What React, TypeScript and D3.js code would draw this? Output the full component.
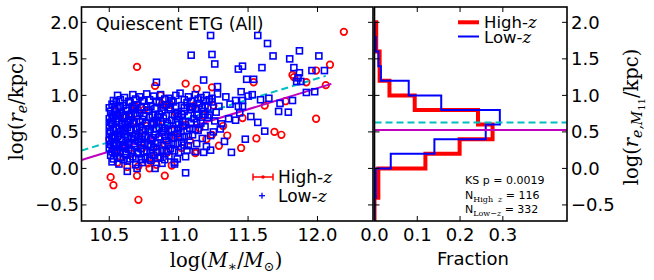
import React from "react";
import * as d3 from "d3";

// ---------- data ----------
const massTicks = [10.5, 11.0, 11.5, 12.0];
const sizeTicks = [-0.5, 0.0, 0.5, 1.0, 1.5, 2.0];
const fractionTicks = [0.0, 0.1, 0.2, 0.3];
const massDomain = [10.3, 12.4];
const sizeDomain = [-0.72, 2.21];
const fractionDomain = [0, 0.45];

// Low-z sample (blue squares): [log M*, log re]
const lowZ: [number, number][] = [
  [11.23, 1.82], [11.57, 1.82], [11.64, 1.71], [11.68, 1.54], [11.87, 1.61], [11.80, 1.50], [12.01, 1.54],
  [11.24, 1.56], [11.09, 1.55], [11.26, 1.43], [11.43, 1.36], [11.46, 1.40], [11.60, 1.38], [11.83, 1.38],
  [11.87, 1.31], [11.96, 1.34], [12.05, 1.34], [11.86, 1.24], [11.85, 1.19], [11.88, 1.19], [11.49, 1.22],
  [11.54, 1.22], [11.18, 1.21], [11.28, 1.12], [10.84, 1.18], [11.45, 1.05], [11.92, 1.04], [11.98, 1.05],
  [11.34, 0.98], [11.41, 0.93], [11.46, 0.93], [11.50, 0.99], [11.53, 1.01], [11.59, 0.94], [11.65, 0.96],
  [11.82, 0.93], [11.73, 0.89], [11.72, 0.78], [11.79, 0.77], [11.43, 0.85], [11.46, 0.85], [11.44, 0.76],
  [11.52, 0.71], [11.57, 0.63], [11.36, 0.68], [11.41, 0.66], [11.62, 0.51], [11.48, 0.40], [11.38, 0.22],
  [11.33, 0.37], [11.23, 0.25], [11.18, 0.22], [10.97, 0.085],
  [10.56, 1.00], [10.61, 0.97], [10.67, 1.01], [10.72, 0.98], [10.77, 1.02], [10.82, 0.99], [10.87, 1.01],
  [10.93, 0.96], [10.98, 1.00], [11.01, 1.03], [11.07, 0.98], [11.12, 1.01], [11.16, 0.97], [11.20, 1.00],
  [11.24, 0.96], [11.28, 1.02],
  [10.52, 0.88], [10.55, 0.91], [10.60, 0.86], [10.65, 0.90], [10.70, 0.87], [10.75, 0.92], [10.80, 0.85],
  [10.86, 0.90], [10.91, 0.87], [10.96, 0.91], [11.02, 0.86], [11.06, 0.90], [11.10, 0.84], [11.15, 0.89],
  [11.19, 0.86], [11.24, 0.91], [11.29, 0.85], [11.37, 0.88],
  [10.51, 0.78], [10.54, 0.81], [10.58, 0.75], [10.63, 0.79], [10.68, 0.82], [10.72, 0.76], [10.78, 0.80],
  [10.83, 0.74], [10.88, 0.79], [10.94, 0.81], [10.99, 0.75], [11.04, 0.78], [11.09, 0.81], [11.13, 0.74],
  [11.18, 0.78], [11.22, 0.73], [11.27, 0.77],
  [10.50, 0.68], [10.53, 0.71], [10.57, 0.65], [10.61, 0.70], [10.65, 0.66], [10.70, 0.72], [10.74, 0.67],
  [10.79, 0.70], [10.84, 0.64], [10.89, 0.69], [10.95, 0.66], [11.00, 0.71], [11.05, 0.64], [11.11, 0.68],
  [11.16, 0.62], [11.21, 0.70], [11.26, 0.65], [11.31, 0.61],
  [10.50, 0.58], [10.52, 0.61], [10.55, 0.55], [10.59, 0.60], [10.63, 0.56], [10.67, 0.61], [10.72, 0.57],
  [10.76, 0.54], [10.81, 0.60], [10.86, 0.56], [10.92, 0.59], [10.97, 0.54], [11.03, 0.58], [11.08, 0.55],
  [11.14, 0.52], [11.19, 0.57], [11.25, 0.50], [11.30, 0.54],
  [10.50, 0.48], [10.51, 0.51], [10.54, 0.45], [10.58, 0.50], [10.61, 0.46], [10.66, 0.52], [10.69, 0.47],
  [10.74, 0.44], [10.78, 0.50], [10.83, 0.46], [10.88, 0.49], [10.93, 0.44], [10.99, 0.48], [11.04, 0.43],
  [11.10, 0.46], [11.17, 0.41], [11.23, 0.45],
  [10.50, 0.38], [10.52, 0.41], [10.55, 0.35], [10.59, 0.40], [10.62, 0.36], [10.66, 0.41], [10.71, 0.37],
  [10.75, 0.34], [10.80, 0.39], [10.85, 0.35], [10.91, 0.38], [10.96, 0.33], [11.02, 0.36], [11.07, 0.31],
  [11.13, 0.34], [11.20, 0.30],
  [10.50, 0.28], [10.53, 0.31], [10.56, 0.25], [10.60, 0.30], [10.64, 0.26], [10.68, 0.31], [10.73, 0.27],
  [10.77, 0.24], [10.82, 0.29], [10.88, 0.25], [10.94, 0.27], [11.00, 0.22], [11.06, 0.25], [11.12, 0.23],
  [10.51, 0.18], [10.54, 0.21], [10.58, 0.15], [10.62, 0.19], [10.67, 0.16], [10.71, 0.20], [10.76, 0.14],
  [10.82, 0.18], [10.87, 0.15], [10.93, 0.17], [10.99, 0.13], [11.05, 0.16],
  [10.52, 0.09], [10.57, 0.06], [10.63, 0.10], [10.69, 0.05], [10.74, 0.08], [10.80, 0.11], [10.88, 0.07],
  [10.97, 0.06], [10.63, -0.04], [10.70, 0.00], [10.83, 0.00], [11.05, -0.06],
  [10.52, 0.63], [10.56, 0.68], [10.60, 0.52], [10.64, 0.63], [10.68, 0.44], [10.53, 0.44], [10.57, 0.33],
  [10.61, 0.28], [10.55, 0.72], [10.58, 0.85], [10.62, 0.60], [10.66, 0.75], [10.70, 0.55], [10.73, 0.40],
  [10.77, 0.62], [10.80, 0.30], [10.85, 0.70], [10.90, 0.55], [10.95, 0.42], [11.00, 0.60],
  [10.53, 0.93], [10.58, 0.94], [10.64, 0.92], [10.69, 0.95], [10.74, 0.93], [10.79, 0.94], [10.84, 0.92],
  [10.90, 0.95], [10.95, 0.93], [11.04, 0.94], [11.09, 0.92], [11.14, 0.95], [11.18, 0.93], [11.22, 0.94],
  [10.50, 0.83], [10.57, 0.84], [10.62, 0.82], [10.67, 0.85], [10.73, 0.83], [10.77, 0.84], [10.83, 0.82],
  [10.89, 0.84], [10.93, 0.83], [10.98, 0.85], [11.04, 0.83], [11.08, 0.84], [11.12, 0.82], [11.17, 0.83],
  [11.21, 0.84],
  [10.52, 0.73], [10.56, 0.74], [10.60, 0.72], [10.64, 0.73], [10.69, 0.75], [10.75, 0.72], [10.81, 0.73],
  [10.86, 0.74], [10.91, 0.72], [10.97, 0.73], [11.02, 0.74], [11.07, 0.72], [11.14, 0.73], [11.19, 0.74],
  [10.51, 0.63], [10.55, 0.64], [10.59, 0.62], [10.68, 0.63], [10.72, 0.64], [10.76, 0.62], [10.82, 0.63],
  [10.87, 0.64], [10.92, 0.62], [10.98, 0.63], [11.03, 0.64], [11.09, 0.62], [11.13, 0.63],
  [10.53, 0.53], [10.57, 0.54], [10.61, 0.52], [10.65, 0.53], [10.69, 0.54], [10.74, 0.52], [10.79, 0.53],
  [10.84, 0.54], [10.89, 0.52], [10.95, 0.53], [11.00, 0.54], [11.06, 0.52], [11.12, 0.53],
  [10.52, 0.43], [10.56, 0.44], [10.63, 0.42], [10.71, 0.43], [10.76, 0.44], [10.81, 0.42], [10.86, 0.43],
  [10.90, 0.44], [10.96, 0.42], [11.01, 0.43], [11.07, 0.44],
  [10.51, 0.33], [10.54, 0.34], [10.61, 0.32], [10.64, 0.33], [10.68, 0.34], [10.73, 0.32], [10.78, 0.33],
  [10.83, 0.34], [10.88, 0.32], [10.93, 0.33], [10.99, 0.34], [11.04, 0.32],
  [10.52, 0.23], [10.55, 0.24], [10.58, 0.22], [10.62, 0.23], [10.66, 0.24], [10.70, 0.22], [10.75, 0.23],
  [10.80, 0.24], [10.85, 0.22], [10.91, 0.23], [10.97, 0.24],
  [10.53, 0.13], [10.56, 0.14], [10.60, 0.12], [10.65, 0.13], [10.69, 0.14], [10.73, 0.12], [10.79, 0.13],
  [10.85, 0.14], [10.90, 0.12],
];

// High-z sample (red circles): [log M*, log re]
const highZ: [number, number][] = [
  [12.19, 1.87], [10.70, 1.39], [10.83, 1.13], [11.05, 1.16], [11.13, 1.09], [11.24, 1.11], [11.54, 1.18],
  [11.82, 1.28], [11.83, 1.25], [11.99, 1.34], [12.09, 1.42], [12.06, 1.14], [11.92, 1.18], [11.99, 0.68],
  [11.62, 0.86], [11.77, 0.92], [11.11, 0.86], [11.25, 0.86], [10.88, 0.88], [10.69, 0.85], [11.46, 0.69],
  [11.69, 0.50], [11.74, 0.46], [11.56, 0.41], [11.45, 0.28], [11.29, 0.31], [11.13, 0.23], [11.24, 0.46],
  [10.86, 0.16], [10.82, 0.14], [10.63, 0.02], [10.79, 0.00], [10.78, 0.07], [10.84, 0.05], [10.51, -0.12],
  [10.53, -0.23], [10.70, -0.10], [10.90, -0.10], [10.71, -0.43], [10.87, 1.00], [10.68, 0.87], [10.89, 0.87],
  [10.94, 0.87], [10.58, 0.16], [10.71, 0.03], [10.84, 0.23], [11.12, 0.21],
  [10.55, 0.78], [10.62, 0.72], [10.75, 0.80], [10.98, 0.76], [11.18, 0.72], [10.52, 0.60], [10.60, 0.55],
  [10.68, 0.65], [10.77, 0.58], [10.85, 0.62], [10.95, 0.52], [11.05, 0.60], [11.15, 0.55], [11.32, 0.58],
  [10.50, 0.40], [10.57, 0.45], [10.64, 0.35], [10.72, 0.48], [10.80, 0.40], [10.90, 0.33], [10.98, 0.44],
  [11.08, 0.38], [11.20, 0.40], [11.35, 0.45], [10.53, 0.25], [10.60, 0.30], [10.66, 0.20], [10.74, 0.28],
  [10.92, 0.22], [11.02, 0.28], [10.56, 0.08], [10.95, 0.04],
];

// size-mass fits
const dashedFitMass = [10.3, 12.06];
const dashedFitSize = [0.244, 1.267];
const solidFitMass = [10.3, 12.1];
const solidFitSize = [0.116, 1.157];
// sizes at M = 10^11
const dashedRefSize = 0.627;
const solidRefSize = 0.527;

// histograms of log r_e,M11
const histEdges = [-0.8, -0.6, -0.4, -0.2, 0.0, 0.2, 0.4, 0.6, 0.8, 1.0, 1.2, 1.4, 1.6, 1.8, 2.0];
const highZFraction = [0, 0, 0.009, 0.009, 0.119, 0.199, 0.276, 0.242, 0.094, 0.035, 0.012, 0.012, 0.004, 0.004];
const lowZFraction = [0, 0, 0.003, 0.003, 0.038, 0.14, 0.26, 0.293, 0.156, 0.08, 0.015, 0.009, 0.003, 0];

// ---------- layout ----------
const W = 654, H = 280;
const top = 7, bottom = 221;
const L0 = 81.5, L1 = 373;
const R0 = 374.5, R1 = 567;

const RED = "#ff0000";
const BLUE = "#0000ff";
const CYAN = "#00bfbf";
const MAGENTA = "#bf00bf";
const SANS = "DejaVu Sans, sans-serif";
const SERIF = "DejaVu Serif, serif";

const fmt = (v: number) => (v < 0 ? "\u2212" : "") + Math.abs(v).toFixed(1);

export default function App() {
  const x = d3.scaleLinear().domain(massDomain).range([L0, L1]);
  const y = d3.scaleLinear().domain(sizeDomain).range([bottom, top]);
  const xf = d3.scaleLinear().domain(fractionDomain).range([R0, R1]);

  const pathFrom = (ms: number[], ss: number[]) =>
    d3.line<[number, number]>().x((d) => x(d[0])).y((d) => y(d[1]))(ms.map((m, i) => [m, ss[i]]) as [number, number][]) || "";

  const histPath = (fr: number[]) => {
    const pts: [number, number][] = [[0, histEdges[0]]];
    fr.forEach((f, i) => {
      pts.push([f, histEdges[i]]);
      pts.push([f, histEdges[i + 1]]);
    });
    pts.push([0, histEdges[histEdges.length - 1]]);
    return d3.line<[number, number]>().x((d) => xf(d[0])).y((d) => y(d[1]))(pts) || "";
  };

  const tickLen = 5;
  const sq = 6.0;

  return (
    <svg width={W} height={H} style={{ position: "absolute", left: 0, top: 0 }} xmlns="http://www.w3.org/2000/svg">
      <rect width={W} height={H} fill="#fff" />
      <defs>
        <clipPath id="clipL">
          <rect x={L0} y={top} width={L1 - L0} height={bottom - top} />
        </clipPath>
        <clipPath id="clipR">
          <rect x={R0} y={top} width={R1 - R0} height={bottom - top} />
        </clipPath>
      </defs>

      {/* ---------- left panel ---------- */}
      <g clipPath="url(#clipL)">
        {highZ.map((d, i) => (
          <circle key={"h" + i} cx={x(d[0])} cy={y(d[1])} r={3.3} fill="none" stroke={RED} strokeWidth={1.7} />
        ))}
        <path d={pathFrom(solidFitMass, solidFitSize)} stroke={MAGENTA} strokeWidth={2} fill="none" />
        <path d={pathFrom(dashedFitMass, dashedFitSize)} stroke={CYAN} strokeWidth={2} fill="none" strokeDasharray="7,4" />
        {lowZ.map((d, i) => (
          <rect key={"l" + i} x={x(d[0]) - sq / 2} y={y(d[1]) - sq / 2} width={sq} height={sq} fill="none" stroke={BLUE} strokeWidth={1.6} />
        ))}
      </g>

      {/* left ticks */}
      {sizeTicks.map((t) => (
        <g key={"ly" + t}>
          <line x1={L0} x2={L0 + tickLen} y1={y(t)} y2={y(t)} stroke="#000" strokeWidth={1} />
          <line x1={L1} x2={L1 - tickLen} y1={y(t)} y2={y(t)} stroke="#000" strokeWidth={1} />
          <text x={79} y={y(t) + 6.5} textAnchor="end" fontFamily={SANS} fontSize={18}>{fmt(t)}</text>
        </g>
      ))}
      {massTicks.map((t) => (
        <g key={"lx" + t}>
          <line x1={x(t)} x2={x(t)} y1={bottom} y2={bottom - tickLen} stroke="#000" strokeWidth={1} />
          <line x1={x(t)} x2={x(t)} y1={top} y2={top + tickLen} stroke="#000" strokeWidth={1} />
          <text x={x(t)} y={240.5} textAnchor="middle" fontFamily={SANS} fontSize={18}>{t.toFixed(1)}</text>
        </g>
      ))}
      <rect x={L0} y={top} width={L1 - L0} height={bottom - top} fill="none" stroke="#000" strokeWidth={1.6} />

      {/* title */}
      <text x={96} y={29.5} fontFamily={SANS} fontSize={17.3}>Quiescent ETG (All)</text>

      {/* left legend */}
      <g>
        <line x1={253} x2={273} y1={177} y2={177} stroke={RED} strokeWidth={1.5} />
        <line x1={253} x2={253} y1={173.5} y2={180.5} stroke={RED} strokeWidth={1.5} />
        <line x1={273} x2={273} y1={173.5} y2={180.5} stroke={RED} strokeWidth={1.5} />
        <circle cx={263} cy={177} r={1.8} fill={RED} />
        <text x={278} y={183} fontFamily={SANS} fontSize={17}>
          High-<tspan fontFamily={SERIF} fontStyle="italic">z</tspan>
        </text>
        <line x1={259} x2={265} y1={195.7} y2={195.7} stroke={BLUE} strokeWidth={1.3} />
        <line x1={262} x2={262} y1={192.7} y2={198.7} stroke={BLUE} strokeWidth={1.3} />
        <text x={278} y={201.5} fontFamily={SANS} fontSize={17}>
          Low-<tspan fontFamily={SERIF} fontStyle="italic">z</tspan>
        </text>
      </g>

      {/* x label left */}
      <text x={226} y={266.5} textAnchor="middle" fontFamily={SERIF} fontSize={19.5}>
        <tspan>log(</tspan>
        <tspan fontStyle="italic">M</tspan>
        <tspan fontSize={14} dy={4}>∗</tspan>
        <tspan dy={-4}>/</tspan>
        <tspan fontStyle="italic">M</tspan>
        <tspan fontSize={13} dy={4}>⊙</tspan>
        <tspan dy={-4}>)</tspan>
      </text>

      {/* y label left */}
      <text transform="translate(23,108) rotate(-90)" textAnchor="middle" fontFamily={SERIF} fontSize={19.5}>
        <tspan>log(</tspan>
        <tspan fontStyle="italic">r</tspan>
        <tspan fontStyle="italic" fontSize={14} dy={4}>e</tspan>
        <tspan dy={-4}>/kpc)</tspan>
      </text>

      {/* ---------- right panel ---------- */}
      <g clipPath="url(#clipR)">
        <path d={histPath(highZFraction)} stroke={RED} strokeWidth={4} fill="none" />
        <path d={histPath(lowZFraction)} stroke={BLUE} strokeWidth={2} fill="none" />
        <line x1={R0} x2={R1} y1={y(dashedRefSize)} y2={y(dashedRefSize)} stroke={CYAN} strokeWidth={2} strokeDasharray="7,4" />
        <line x1={R0} x2={R1} y1={y(solidRefSize)} y2={y(solidRefSize)} stroke={MAGENTA} strokeWidth={2} />
      </g>

      {sizeTicks.map((t) => (
        <g key={"ry" + t}>
          <line x1={R0} x2={R0 + tickLen} y1={y(t)} y2={y(t)} stroke="#000" strokeWidth={1} />
          <line x1={R1} x2={R1 - tickLen} y1={y(t)} y2={y(t)} stroke="#000" strokeWidth={1} />
          <text x={571} y={y(t) + 6.5} textAnchor="start" fontFamily={SANS} fontSize={18}>{fmt(t)}</text>
        </g>
      ))}
      {fractionTicks.map((t) => (
        <g key={"rx" + t}>
          <line x1={xf(t)} x2={xf(t)} y1={bottom} y2={bottom - tickLen} stroke="#000" strokeWidth={1} />
          <line x1={xf(t)} x2={xf(t)} y1={top} y2={top + tickLen} stroke="#000" strokeWidth={1} />
          <text x={xf(t)} y={240.5} textAnchor="middle" fontFamily={SANS} fontSize={18}>{t.toFixed(1)}</text>
        </g>
      ))}
      <rect x={R0} y={top} width={R1 - R0} height={bottom - top} fill="none" stroke="#000" strokeWidth={1.6} />

      {/* right legend */}
      <line x1={458} x2={479} y1={22.3} y2={22.3} stroke={RED} strokeWidth={4} />
      <text x={484} y={27.5} fontFamily={SANS} fontSize={16.5}>
        High-<tspan fontFamily={SERIF} fontStyle="italic">z</tspan>
      </text>
      <line x1={458} x2={479} y1={36.5} y2={36.5} stroke={BLUE} strokeWidth={2} />
      <text x={484} y={42.5} fontFamily={SANS} fontSize={16.5}>
        Low-<tspan fontFamily={SERIF} fontStyle="italic">z</tspan>
      </text>

      {/* KS text */}
      <text x={465} y={184} fontFamily={SANS} fontSize={11}>KS p = 0.0019</text>
      <text x={465} y={198.5} fontFamily={SANS} fontSize={11}>
        N<tspan fontFamily={SERIF} fontSize={8} dy={3}>High</tspan>
        <tspan fontFamily={SERIF} fontSize={8} fontStyle="italic" dx={5}>z</tspan>
        <tspan dy={-3}> = 116</tspan>
      </text>
      <text x={465} y={213} fontFamily={SANS} fontSize={11}>
        N<tspan fontFamily={SERIF} fontSize={8} dy={3}>Low−</tspan>
        <tspan fontFamily={SERIF} fontSize={8} fontStyle="italic">z</tspan>
        <tspan dy={-3}> = 332</tspan>
      </text>

      {/* x label right */}
      <text x={473} y={265} textAnchor="middle" fontFamily={SANS} fontSize={18}>Fraction</text>

      {/* y label right */}
      <text transform="translate(638,117) rotate(-90)" textAnchor="middle" fontFamily={SERIF} fontSize={19.5}>
        <tspan>log(</tspan>
        <tspan fontStyle="italic">r</tspan>
        <tspan fontStyle="italic" fontSize={14} dy={4}>e,M</tspan>
        <tspan fontSize={10} dy={3}>11</tspan>
        <tspan dy={-7}>/kpc)</tspan>
      </text>
    </svg>
  );
}
